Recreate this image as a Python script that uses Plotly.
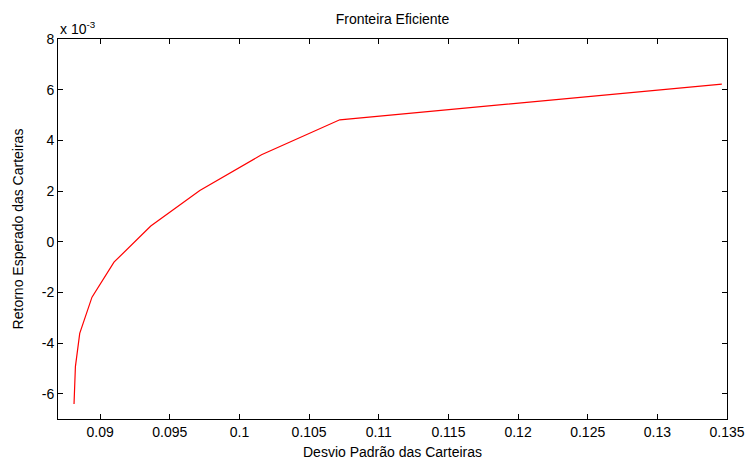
import plotly.graph_objects as go

# Efficient frontier (std dev, expected return)
desvio = [0.08812, 0.08822, 0.08853, 0.08941, 0.09099, 0.09363, 0.09715, 0.10158, 0.10720, 0.13463]
retorno = [-0.00641, -0.00493, -0.00362, -0.00219, -0.00081, 0.00062, 0.00202, 0.00343, 0.00481, 0.00622]

x_ticks = [0.09, 0.095, 0.1, 0.105, 0.11, 0.115, 0.12, 0.125, 0.13, 0.135]
x_labels = ["0.09", "0.095", "0.1", "0.105", "0.11", "0.115", "0.12", "0.125", "0.13", "0.135"]
y_ticks = [-0.006, -0.004, -0.002, 0.0, 0.002, 0.004, 0.006, 0.008]
y_labels = ["-6", "-4", "-2", "0", "2", "4", "6", "8"]

font_family = "Liberation Sans, Arial, Helvetica, sans-serif"

fig = go.Figure()
fig.add_trace(go.Scatter(x=desvio, y=retorno, mode="lines",
                         line=dict(color="#ff0000", width=1.2), showlegend=False,
                         hoverinfo="x+y"))

axis_common = dict(showgrid=False, zeroline=False, showline=True, linecolor="black",
                   linewidth=1, mirror="ticks", ticks="inside", ticklen=5,
                   tickcolor="black", tickwidth=1, automargin=False,
                   tickfont=dict(family=font_family, size=14, color="black"))

fig.update_layout(
    width=747, height=461,
    margin=dict(l=58, r=20, t=39, b=42),
    paper_bgcolor="white", plot_bgcolor="white",
    title=dict(text="Fronteira Eficiente", x=(58.3 + 726.7) / 2 / 747, xanchor="center",
               y=1 - 19 / 461, yanchor="middle",
               font=dict(family=font_family, size=14, color="black")),
    xaxis=dict(range=[0.08697, 0.135], tickvals=x_ticks, ticktext=x_labels,
               title=dict(text="Desvio Padrão das Carteiras", standoff=8,
                          font=dict(family=font_family, size=14, color="black")),
               **axis_common),
    yaxis=dict(range=[-0.007, 0.008], tickvals=y_ticks, ticktext=y_labels,
               title=dict(text="Retorno Esperado das Carteiras", standoff=14,
                          font=dict(family=font_family, size=14, color="black")),
               **axis_common),
)

fig.add_annotation(text="x 10<sup>-3</sup>", xref="paper", yref="paper",
                   x=0, y=1, xanchor="left", yanchor="bottom", yshift=0, showarrow=False,
                   font=dict(family=font_family, size=14, color="black"))

fig.write_html("out.html")
